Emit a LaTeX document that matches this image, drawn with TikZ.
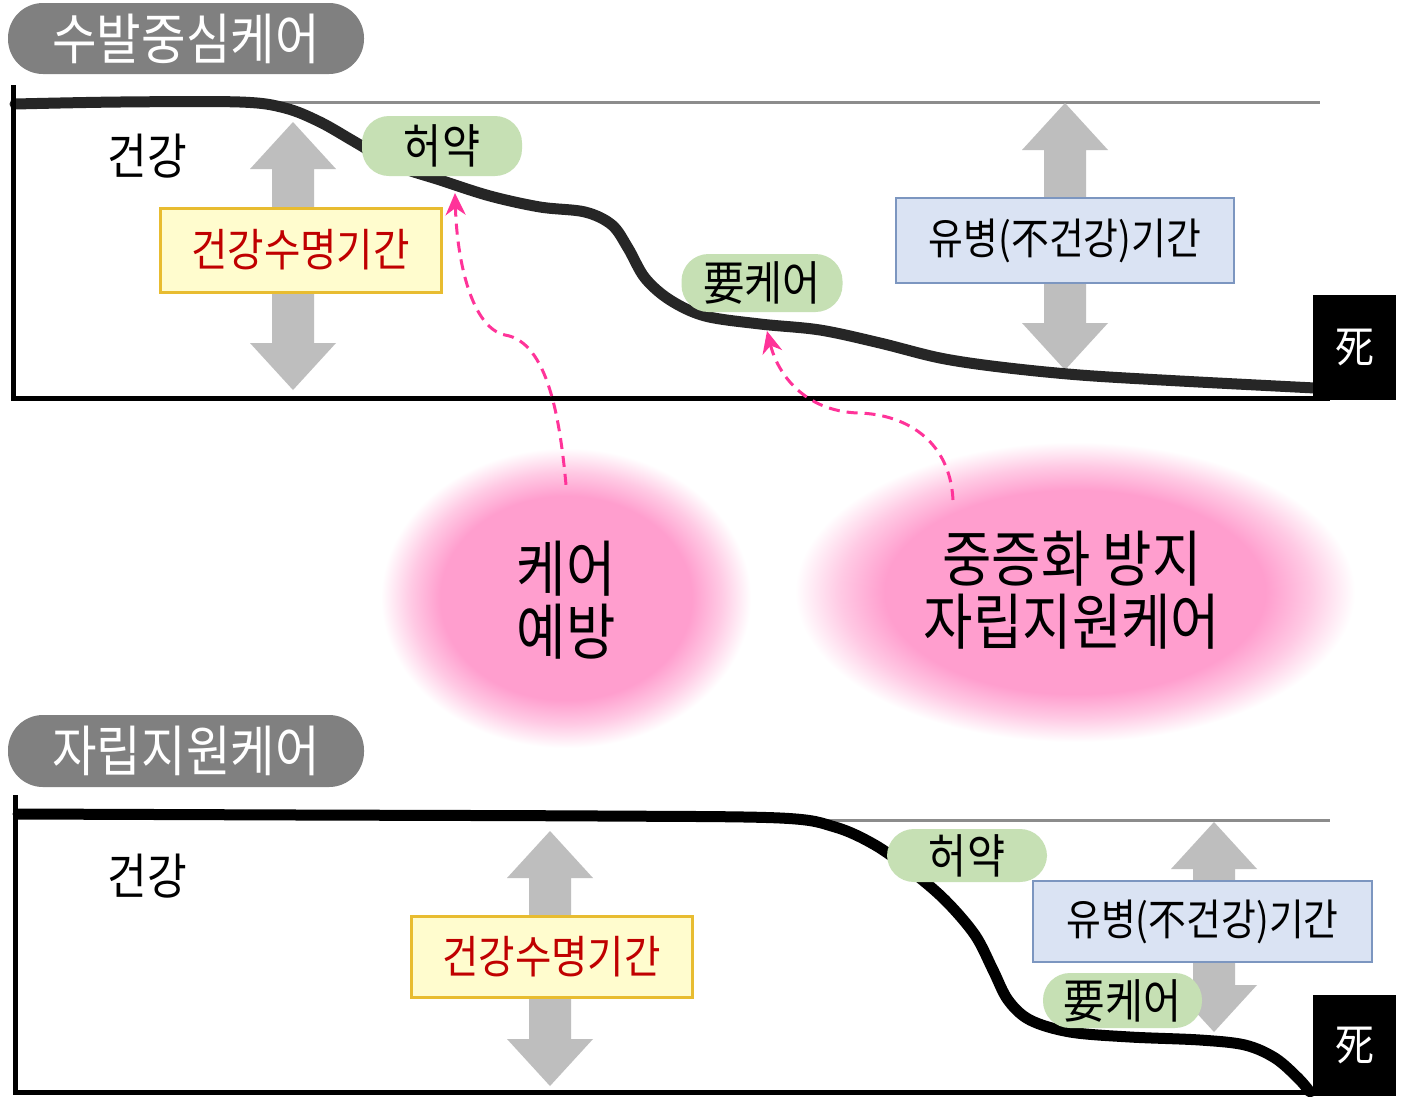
\documentclass[tikz,border=0pt]{standalone}
\usepackage{fontspec}
\setmainfont{Noto Sans CJK KR}
\newfontfamily\nar[FakeStretch=0.88]{Noto Sans CJK KR}
\usetikzlibrary{arrows.meta}
\definecolor{headgray}{RGB}{128,128,128}
\definecolor{arrowgray}{RGB}{190,190,190}
\definecolor{linegray}{RGB}{140,140,140}
\definecolor{curvecol}{RGB}{38,38,38}
\definecolor{bubblegreen}{RGB}{198,224,180}
\definecolor{goldline}{RGB}{232,188,48}
\definecolor{lightyellow}{RGB}{255,252,206}
\definecolor{darkred}{RGB}{192,0,0}
\definecolor{paleblue}{RGB}{218,227,243}
\definecolor{steelblue}{RGB}{124,150,192}
\definecolor{glowpink}{RGB}{255,158,206}
\definecolor{dashpink}{RGB}{255,51,153}
\pgfdeclareradialshading{pinkglow}{\pgfpoint{0bp}{0bp}}{color(0bp)=(glowpink); color(17bp)=(glowpink); color(21bp)=(glowpink!55!white); color(25bp)=(white); color(50bp)=(white)}
\newcommand\grayarrow[3]{%
  \fill[arrowgray] (#1,#2) -- (#1+43,#2+47) -- (#1+21,#2+47) -- (#1+21,#3-47) -- (#1+43,#3-47) -- (#1,#3) -- (#1-43,#3-47) -- (#1-21,#3-47) -- (#1-21,#2+47) -- (#1-43,#2+47) -- cycle;}
\begin{document}
\begin{tikzpicture}[x=1pt,y=-1pt,
  pill/.style={fill=headgray, rounded corners=35pt, minimum width=356pt, text=white, font=\nar\fontsize{55}{62}\selectfont},
  label/.style={font=\nar\fontsize{49}{56}\selectfont},
  bubble/.style={fill=bubblegreen, rounded corners=27pt, inner sep=0pt, font=\nar\fontsize{47}{54}\selectfont},
  yellowbox/.style={draw=goldline, line width=3pt, fill=lightyellow, text=darkred, minimum width=281pt, inner sep=0pt, font=\nar\fontsize{45}{52}\selectfont},
  bluebox/.style={draw=steelblue, line width=2.5pt, fill=paleblue, minimum width=338pt, inner sep=0pt, font=\nar\fontsize{43}{50}\selectfont},
  deathbox/.style={fill=black, text=white, minimum width=83pt, font=\nar\fontsize{44}{50}\selectfont},
  blobtext/.style={align=center, font=\nar\fontsize{61}{63}\selectfont},
  axis/.style={line width=5pt, black},
  curve/.style={line width=11pt, curvecol, line cap=round, line join=round},
  refline/.style={line width=3pt, linegray},
  pinkarrow/.style={dashpink, line width=3pt, dash pattern=on 11pt off 7pt, -{Stealth[length=22pt,width=20pt,inset=7pt]}}
]
\useasboundingbox (0,0) rectangle (1403,1096);
\fill[white] (0,0) rectangle (1403,1096);

% ---------- glows ----------
\shade[shading=pinkglow] (566,598) ellipse [x radius=185pt, y radius=150pt];
\shade[shading=pinkglow] (1075,592) ellipse [x radius=280pt, y radius=150pt];

% ---------- top panel ----------
\node[pill, minimum height=71pt] (h1) at (186,38.5) {수발중심케어};
\draw[refline] (270,102) -- (1320,102);
\grayarrow{293}{122}{390}
\grayarrow{1065}{103}{370}
\draw[curve] plot[smooth, tension=0.55] coordinates {(15,104) (120,102) (240,102) (285,108) (320,122) (355,142) (395,165) (440,180) (490,196) (540,207) (585,212) (612,225) (628,248) (645,278) (670,300) (705,316) (760,324) (820,330) (880,343) (940,358) (1000,367) (1080,375) (1180,381) (1315,388)};
\draw[axis] (13,85) -- (13,398) -- (1330,398);
\node[label] (g1) at (147,156) {건강};
\node[bubble, minimum width=160pt, minimum height=60pt] (w1) at (442,146) {허약};
\node[bubble, minimum width=161pt, minimum height=58pt] (c1) at (762,283) {要케어};
\node[yellowbox, minimum height=84pt] (y1) at (300.5,250) {건강수명기간};
\node[bluebox, minimum height=85pt] (b1) at (1065,240.5) {유병(不건강)기간};
\node[deathbox, minimum height=105pt] (d1) at (1354.5,347.5) {死};

% ---------- blobs ----------
\node[blobtext, minimum height=230pt] (k1) at (566,600) {케어\\예방};
\node[blobtext, minimum height=220pt] (k2) at (1072,590) {중증화 방지\\자립지원케어};
\coordinate (t1) at (455,193);
\coordinate (t2) at (767,331);
\draw[pinkarrow] (k1.north) .. controls (560,420) and (548,342) .. (505,335) .. controls (472,328) and (457,262) .. (t1);
\draw[pinkarrow] (953,500) .. controls (950,440) and (905,414) .. (858,413) .. controls (805,411) and (778,375) .. (t2);

% ---------- bottom panel ----------
\node[pill, minimum height=72pt] (h2) at (186,751) {자립지원케어};
\draw[refline] (826,820) -- (1330,820);
\grayarrow{550}{831}{1086}
\grayarrow{1214}{822}{1032}
\draw[curve, black] plot[smooth, tension=0.55] coordinates {(18,814) (300,815) (600,816) (780,818) (835,827) (875,845) (910,870) (945,900) (975,935) (993,970) (1008,1000) (1030,1020) (1070,1032) (1130,1037) (1200,1040) (1245,1045) (1275,1058) (1298,1078) (1310,1092)};
\draw[axis] (15,795) -- (15,1092) -- (1312,1092);
\node[label] (g2) at (147,876) {건강};
\node[bubble, minimum width=160pt, minimum height=53pt] (w2) at (967,855.5) {허약};
\node[yellowbox, minimum height=81pt] (y2) at (551.5,956.5) {건강수명기간};
\node[bluebox, minimum width=339pt, minimum height=81pt] (b2) at (1202.5,921.5) {유병(不건강)기간};
\node[bubble, minimum width=159pt, minimum height=55pt] (c2) at (1122.5,1000.5) {要케어};
\node[deathbox, minimum height=101pt] (d2) at (1354.5,1045.5) {死};
\end{tikzpicture}
\end{document}
